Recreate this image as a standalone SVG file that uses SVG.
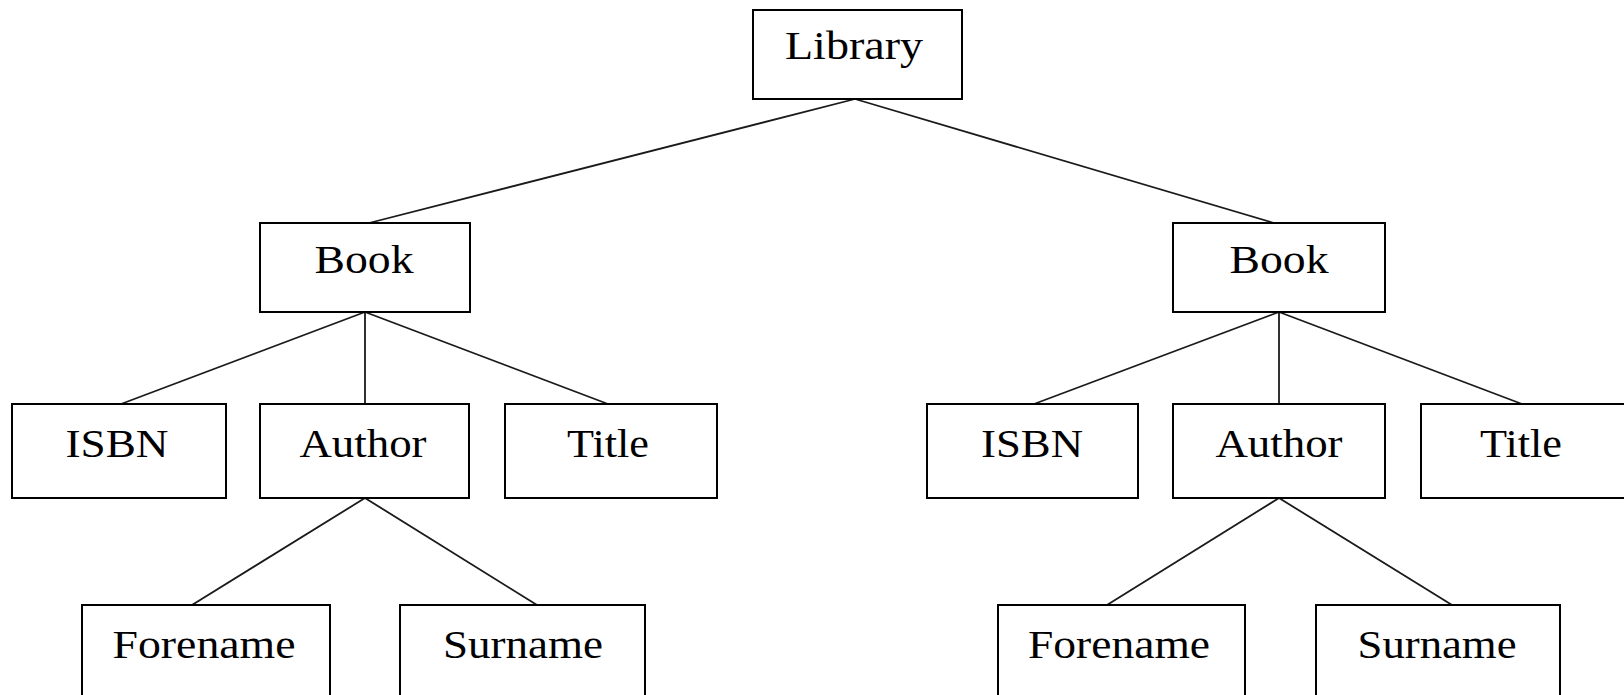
<svg xmlns="http://www.w3.org/2000/svg" width="1624" height="695" viewBox="0 0 1624 695">
<style>
.box{fill:#fff;stroke:#000;stroke-width:2}
.lbl{font-family:"Liberation Serif","Times New Roman",serif;font-size:40px;fill:#000;text-anchor:middle}
.edge{stroke:#1a1a1a;stroke-width:1.8;fill:none}
</style>
<rect width="1624" height="695" fill="#fff"/>
<g id="connectors">
<line class="edge" x1="855" y1="99" x2="369" y2="223"/>
<line class="edge" x1="855" y1="99" x2="1274" y2="223"/>
<line class="edge" x1="365" y1="312" x2="121" y2="404"/>
<line class="edge" x1="365" y1="312" x2="365" y2="404"/>
<line class="edge" x1="365" y1="312" x2="608" y2="404"/>
<line class="edge" x1="365" y1="498" x2="192" y2="605"/>
<line class="edge" x1="365" y1="498" x2="537" y2="605"/>
<line class="edge" x1="1279" y1="312" x2="1034" y2="404"/>
<line class="edge" x1="1279" y1="312" x2="1279" y2="404"/>
<line class="edge" x1="1279" y1="312" x2="1522" y2="404"/>
<line class="edge" x1="1279" y1="498" x2="1107" y2="605"/>
<line class="edge" x1="1279" y1="498" x2="1452" y2="605"/>
</g>
<g id="library"><rect class="box" x="753" y="10" width="209" height="89"/><text class="lbl" x="854" y="59" textLength="138" lengthAdjust="spacingAndGlyphs">Library</text></g>
<g id="book1"><rect class="box" x="260" y="223" width="210" height="89"/><text class="lbl" x="364" y="273" textLength="99" lengthAdjust="spacingAndGlyphs">Book</text></g>
<g id="book2"><rect class="box" x="1173" y="223" width="212" height="89"/><text class="lbl" x="1279" y="273" textLength="99" lengthAdjust="spacingAndGlyphs">Book</text></g>
<g id="isbn1"><rect class="box" x="12" y="404" width="214" height="94"/><text class="lbl" x="117" y="457" textLength="103" lengthAdjust="spacingAndGlyphs">ISBN</text></g>
<g id="author1"><rect class="box" x="260" y="404" width="209" height="94"/><text class="lbl" x="363" y="457" textLength="127" lengthAdjust="spacingAndGlyphs">Author</text></g>
<g id="title1"><rect class="box" x="505" y="404" width="212" height="94"/><text class="lbl" x="608" y="457" textLength="82" lengthAdjust="spacingAndGlyphs">Title</text></g>
<g id="isbn2"><rect class="box" x="927" y="404" width="211" height="94"/><text class="lbl" x="1032" y="457" textLength="102" lengthAdjust="spacingAndGlyphs">ISBN</text></g>
<g id="author2"><rect class="box" x="1173" y="404" width="212" height="94"/><text class="lbl" x="1279" y="457" textLength="127" lengthAdjust="spacingAndGlyphs">Author</text></g>
<g id="title2"><rect class="box" x="1421" y="404" width="214" height="94"/><text class="lbl" x="1521" y="457" textLength="82" lengthAdjust="spacingAndGlyphs">Title</text></g>
<g id="forename1"><rect class="box" x="82" y="605" width="248" height="100"/><text class="lbl" x="204" y="658" textLength="183" lengthAdjust="spacingAndGlyphs">Forename</text></g>
<g id="surname1"><rect class="box" x="400" y="605" width="245" height="100"/><text class="lbl" x="523" y="658" textLength="160" lengthAdjust="spacingAndGlyphs">Surname</text></g>
<g id="forename2"><rect class="box" x="998" y="605" width="247" height="100"/><text class="lbl" x="1119" y="658" textLength="182" lengthAdjust="spacingAndGlyphs">Forename</text></g>
<g id="surname2"><rect class="box" x="1316" y="605" width="244" height="100"/><text class="lbl" x="1437" y="658" textLength="159" lengthAdjust="spacingAndGlyphs">Surname</text></g>
</svg>
